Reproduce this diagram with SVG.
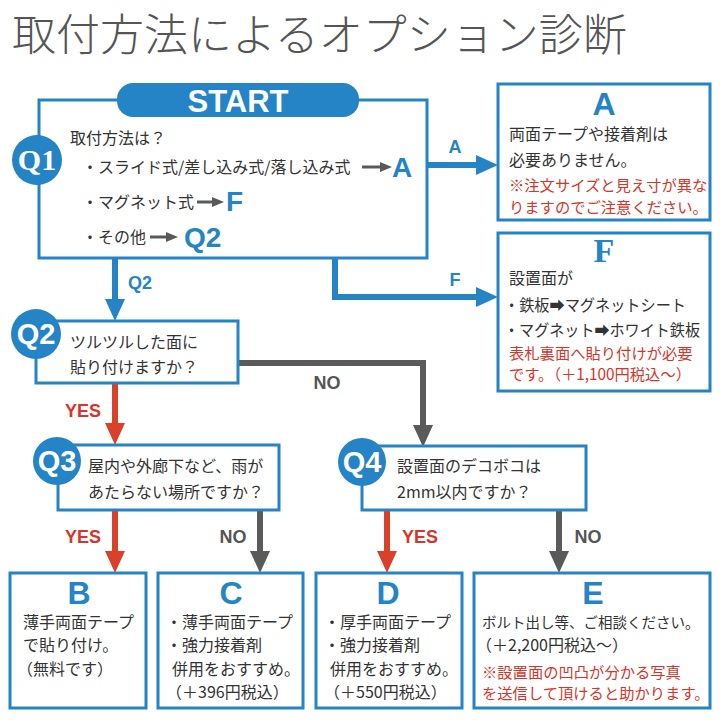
<svg xmlns="http://www.w3.org/2000/svg" width="720" height="720" viewBox="0 0 720 720">
<defs>
<style>
.jp{font-family:"Noto Sans CJK JP","DejaVu Sans",sans-serif;font-size:16px;fill:#333}
.red{fill:#d8352a;font-size:15.3px}
.box{fill:#fff;stroke:#2584c6;stroke-width:3}
.circ{fill:#2584c6}
.qs{font-family:"Liberation Sans",Arial,sans-serif;font-weight:bold;font-size:29px;fill:#fff}
.qserif{font-family:"Liberation Serif","Times New Roman",serif;font-weight:bold;font-size:30px;fill:#fff}
.big{font-family:"Liberation Sans",Arial,sans-serif;font-weight:bold;font-size:32px;fill:#2584c6}
.inl{font-family:"Liberation Sans",Arial,sans-serif;font-weight:bold;font-size:28px;fill:#2584c6}
.lbl{font-family:"Liberation Sans",Arial,sans-serif;font-weight:bold;font-size:18px}
.cb{fill:none;stroke:#2584c6;stroke-width:6;marker-end:url(#mb)}
.cr{fill:none;stroke:#d8412b;stroke-width:6;marker-end:url(#mr)}
.cg{fill:none;stroke:#5a5a5a;stroke-width:6;marker-end:url(#mg)}
.ia{fill:none;stroke:#5a5a5a;stroke-width:3}
</style>
<marker id="mb" markerUnits="userSpaceOnUse" viewBox="0 0 22 20" markerWidth="22" markerHeight="20" refX="10" refY="10" orient="auto"><path d="M0,0 L22,10 L0,20 z" fill="#2584c6"/></marker>
<marker id="mr" markerUnits="userSpaceOnUse" viewBox="0 0 22 20" markerWidth="22" markerHeight="20" refX="10" refY="10" orient="auto"><path d="M0,0 L22,10 L0,20 z" fill="#d8412b"/></marker>
<marker id="mg" markerUnits="userSpaceOnUse" viewBox="0 0 22 20" markerWidth="22" markerHeight="20" refX="10" refY="10" orient="auto"><path d="M0,0 L22,10 L0,20 z" fill="#5a5a5a"/></marker>
<marker id="ms" markerUnits="userSpaceOnUse" viewBox="0 0 12 10" markerWidth="12" markerHeight="10" refX="4" refY="5" orient="auto"><path d="M0,0 L12,5 L0,10 z" fill="#5a5a5a"/></marker>
</defs>
<rect width="720" height="720" fill="#fff"/>

<text x="12" y="51" style="font-family:'Noto Sans CJK JP',sans-serif;font-size:44px;font-weight:300;fill:#555">取付方法によるオプション診断</text>

<g id="connectors">
<path class="cb" d="M427,165 H486"/>
<path class="cb" d="M335,258 V297 H486" stroke-linejoin="miter"/>
<path class="cb" d="M115,258 V309"/>
<path class="cg" d="M238,363 H423 V435"/>
<path class="cr" d="M115,384 V433"/>
<path class="cr" d="M115,510 V561"/>
<path class="cg" d="M260,510 V561"/>
<path class="cr" d="M387,510 V561"/>
<path class="cg" d="M559,510 V561"/>
<text class="lbl" x="455" y="153" text-anchor="middle" fill="#2584c6">A</text>
<text class="lbl" x="455" y="286" text-anchor="middle" fill="#2584c6">F</text>
<text class="lbl" x="140" y="289" text-anchor="middle" fill="#2584c6">Q2</text>
<text class="lbl" x="327" y="389" text-anchor="middle" fill="#555">NO</text>
<text class="lbl" x="83" y="417" text-anchor="middle" fill="#d8352a">YES</text>
<text class="lbl" x="83" y="543" text-anchor="middle" fill="#d8352a">YES</text>
<text class="lbl" x="233" y="543" text-anchor="middle" fill="#555">NO</text>
<text class="lbl" x="420" y="543" text-anchor="middle" fill="#d8352a">YES</text>
<text class="lbl" x="588" y="543" text-anchor="middle" fill="#555">NO</text>
</g>

<g id="q1">
<rect class="box" x="39" y="100" width="388" height="158"/>
<rect x="117" y="83" width="242" height="34" rx="16" fill="#2584c6"/>
<text x="238" y="112" text-anchor="middle" style="font-family:'Liberation Sans',Arial,sans-serif;font-weight:bold;font-size:31px;fill:#fff">START</text>
<circle class="circ" cx="37" cy="160" r="25"/>
<text class="qserif" x="37" y="170" text-anchor="middle">Q1</text>
<text class="jp" x="70" y="144">取付方法は？</text>
<text class="jp" x="82" y="173">・スライド式/差し込み式/落し込み式</text>
<path class="ia" d="M362,167 H384" marker-end="url(#ms)"/>
<text class="inl" x="392" y="177">A</text>
<text class="jp" x="82" y="208">・マグネット式</text>
<path class="ia" d="M197,202 H216" marker-end="url(#ms)"/>
<text class="inl" x="226" y="211">F</text>
<text class="jp" x="82" y="243">・その他</text>
<path class="ia" d="M150,237 H170" marker-end="url(#ms)"/>
<text class="inl" x="184" y="247">Q2</text>
</g>

<g id="a">
<rect class="box" x="498" y="84" width="212" height="136"/>
<text class="big" x="604" y="115" text-anchor="middle">A</text>
<text class="jp" x="509" y="140">両面テープや接着剤は</text>
<text class="jp" x="509" y="166">必要ありません。</text>
<text class="jp red" x="509" y="191">※注文サイズと見え寸が異な</text>
<text class="jp red" x="509" y="213">りますのでご注意ください。</text>
</g>

<g id="f">
<rect class="box" x="498" y="233" width="212" height="158"/>
<text x="604" y="262" text-anchor="middle" style="font-family:'Liberation Serif','Times New Roman',serif;font-weight:bold;font-size:34px;fill:#2584c6">F</text>
<text class="jp" x="509" y="284">設置面が</text>
<text class="jp" x="504" y="311" textLength="182" lengthAdjust="spacingAndGlyphs">・鉄板➡マグネットシート</text>
<text class="jp" x="504" y="336" textLength="196" lengthAdjust="spacingAndGlyphs">・マグネット➡ホワイト鉄板</text>
<text class="jp red" x="509" y="359">表札裏面へ貼り付けが必要</text>
<text class="jp red" x="509" y="380">です。（＋1,100円税込～）</text>
</g>

<g id="q2">
<rect class="box" x="36" y="321" width="202" height="62"/>
<circle class="circ" cx="36" cy="334" r="25"/>
<text class="qs" x="36" y="344" text-anchor="middle">Q2</text>
<text class="jp" x="70" y="348">ツルツルした面に</text>
<text class="jp" x="70" y="373">貼り付けますか？</text>
</g>

<g id="q3">
<rect class="box" x="58" y="445" width="221" height="65"/>
<circle class="circ" cx="57" cy="461" r="24"/>
<text class="qs" x="57" y="471" text-anchor="middle">Q3</text>
<text class="jp" x="88" y="472">屋内や外廊下など、雨が</text>
<text class="jp" x="88" y="498">あたらない場所ですか？</text>
</g>

<g id="q4">
<rect class="box" x="362" y="446" width="224" height="64"/>
<circle class="circ" cx="362" cy="462" r="24"/>
<text class="qs" x="362" y="472" text-anchor="middle">Q4</text>
<text class="jp" x="397" y="472">設置面のデコボコは</text>
<text class="jp" x="397" y="498">2mm以内ですか？</text>
</g>

<g id="b">
<rect class="box" x="10" y="573" width="136" height="135"/>
<text class="big" x="79" y="604" text-anchor="middle">B</text>
<text class="jp" x="23" y="628">薄手両面テープ</text>
<text class="jp" x="23" y="651">で貼り付け。</text>
<text class="jp" x="17" y="675">（無料です）</text>
</g>

<g id="c">
<rect class="box" x="158" y="573" width="145" height="135"/>
<text class="big" x="231" y="604" text-anchor="middle">C</text>
<text class="jp" x="166" y="628">・薄手両面テープ</text>
<text class="jp" x="166" y="651">・強力接着剤</text>
<text class="jp" x="172" y="675">併用をおすすめ。</text>
<text class="jp" x="166" y="698">（＋396円税込）</text>
</g>

<g id="d">
<rect class="box" x="316" y="573" width="146" height="135"/>
<text class="big" x="388" y="604" text-anchor="middle">D</text>
<text class="jp" x="324" y="628">・厚手両面テープ</text>
<text class="jp" x="324" y="651">・強力接着剤</text>
<text class="jp" x="330" y="675">併用をおすすめ。</text>
<text class="jp" x="324" y="698">（＋550円税込）</text>
</g>

<g id="e">
<rect class="box" x="474" y="573" width="236" height="135"/>
<text class="big" x="593" y="604" text-anchor="middle">E</text>
<text class="jp" x="482" y="628" style="font-size:14.5px">ボルト出し等、ご相談ください。</text>
<text class="jp" x="476" y="651">（＋2,200円税込～）</text>
<text class="jp red" x="482" y="678">※設置面の凹凸が分かる写真</text>
<text class="jp red" x="482" y="699">を送信して頂けると助かります。</text>
</g>
</svg>
